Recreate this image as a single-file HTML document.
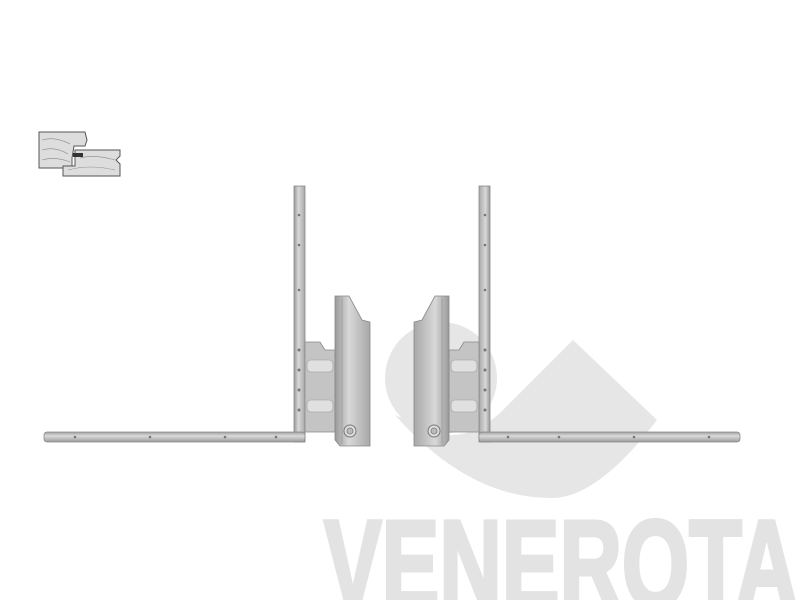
<!DOCTYPE html>
<html><head><style>html,body{margin:0;padding:0;background:#fff;width:800px;height:600px;overflow:hidden}svg{display:block}</style></head>
<body>
<svg width="800" height="600" viewBox="0 0 800 600" xmlns="http://www.w3.org/2000/svg" style="overflow:hidden">
<defs>
<linearGradient id="gv" x1="0" x2="1" y1="0" y2="0"><stop offset="0" stop-color="#9a9a9a"/><stop offset="0.4" stop-color="#d8d8d8"/><stop offset="1" stop-color="#a8a8a8"/></linearGradient>
<linearGradient id="gh" x1="0" x2="0" y1="0" y2="1"><stop offset="0" stop-color="#a0a0a0"/><stop offset="0.4" stop-color="#dadada"/><stop offset="1" stop-color="#9a9a9a"/></linearGradient>
<g id="hinge">
  <rect x="294" y="186" width="11" height="256" fill="url(#gv)" stroke="#888" stroke-width="0.8"/>
  <rect x="44" y="432" width="261" height="10" rx="3" fill="url(#gh)" stroke="#888" stroke-width="0.8"/>
  <g fill="#777"><circle cx="75" cy="437" r="1.3"/><circle cx="150" cy="437" r="1.3"/><circle cx="225" cy="437" r="1.3"/><circle cx="276" cy="437" r="1.3"/>
  <circle cx="299" cy="215" r="1.3"/><circle cx="299" cy="245" r="1.3"/><circle cx="299" cy="290" r="1.3"/><circle cx="299" cy="350" r="1.5"/><circle cx="299" cy="370" r="1.5"/><circle cx="299" cy="390" r="1.5"/><circle cx="299" cy="410" r="1.5"/></g>
  <path d="M305 342 L320 342 L325 350 L335 350 L335 432 L305 432 Z" fill="#c4c4c4" stroke="#888" stroke-width="0.8"/>
  <rect x="307" y="360" width="26" height="12" rx="4" fill="#e0e0e0" stroke="#999" stroke-width="0.6"/>
  <rect x="307" y="400" width="26" height="12" rx="4" fill="#e0e0e0" stroke="#999" stroke-width="0.6"/>
  <path d="M335 296 L349 296 L362 320 L370 322 L370 446 L340 446 L335 440 Z" fill="url(#gv)" stroke="#888" stroke-width="0.8"/>
  <line x1="342" y1="298" x2="342" y2="444" stroke="#999" stroke-width="0.8"/>
  <circle cx="350" cy="431" r="6" fill="#ddd" stroke="#777" stroke-width="1"/>
  <circle cx="350" cy="431" r="3" fill="#bbb" stroke="#777" stroke-width="0.8"/>
</g>
</defs>
<g fill="#e6e6e6">
  <circle cx="441" cy="378" r="56"/>
  <path d="M395 415 Q470 500 555 498 Q600 495 657 420 L573 340 L500 413 Q470 440 440 434 Z"/>
</g>
<text x="324" y="607" font-family="Liberation Sans, sans-serif" font-weight="bold" font-size="124" fill="#e3e3e3" stroke="#e3e3e3" stroke-width="4" textLength="474" lengthAdjust="spacingAndGlyphs">VENEROTA</text>
<use href="#hinge"/>
<use href="#hinge" transform="translate(784 0) scale(-1 1)"/>
<g stroke="#555" stroke-width="1" fill="#ddd">
  <path d="M39 132 L85 132 L87 140 L85 146 L74 146 L72 158 L72 168 L39 168 Z"/>
  <path d="M80 150 L120 150 L120 156 L116 160 L120 164 L120 176 L63 176 L63 166 L75 166 L75 150 Z"/>
</g>
<g stroke="#888" stroke-width="0.6" fill="none">
  <path d="M42 140 Q55 136 70 144 M42 150 Q55 146 68 154 M42 160 Q55 156 70 162 M80 158 Q95 154 115 160 M68 170 Q90 164 115 170"/>
</g>
<rect x="73" y="153" width="10" height="4" fill="#333"/>
</svg>
</body></html>
